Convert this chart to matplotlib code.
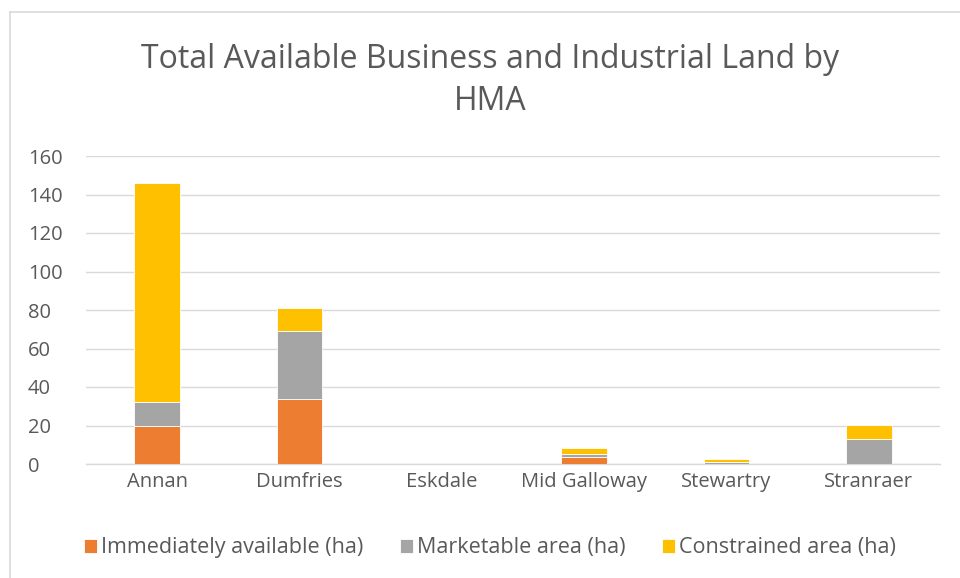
import numpy as np
import matplotlib.pyplot as plt
from matplotlib.lines import Line2D

# данные по HMA
areas = ['Annan', 'Dumfries', 'Eskdale', 'Mid Galloway', 'Stewartry', 'Stranraer']
immediate = [20.0, 34.0, 0.0, 3.8, 0.0, 0.0]
marketable = [12.4, 35.2, 0.0, 1.4, 1.2, 13.1]
constrained = [113.6, 11.9, 0.0, 3.0, 1.2, 7.2]

series_names = ['Immediately available (ha)', 'Marketable area (ha)', 'Constrained area (ha)']
colors = ['#ED7D31', '#A5A5A5', '#FFC000']
text_color = '#595959'

plt.rcParams['font.family'] = ['Open Sans', 'DejaVu Sans']

W, H = 960, 578
fig = plt.figure(figsize=(W / 100, H / 100), dpi=100)
ax = fig.add_axes([86 / W, 1 - 464 / H, (940 - 86) / W, (464 - 156) / H])

x = np.arange(len(areas))
w = 0.32
bottom = np.zeros(len(areas))
for vals, name, c in zip([immediate, marketable, constrained], series_names, colors):
    ax.bar(x, vals, w, bottom=bottom, color=c, label=name, edgecolor='white', linewidth=0.6, zorder=3)
    bottom += np.array(vals)

ax.set_xlim(-0.5, len(areas) - 0.5)
ax.set_ylim(0, 160)
ax.set_yticks(range(0, 161, 20))
ax.set_xticks(x)
ax.set_xticklabels(areas)
ax.grid(axis='y', color='#D9D9D9', linewidth=1, zorder=0)
for s in ['top', 'right', 'left']:
    ax.spines[s].set_visible(False)
ax.spines['bottom'].set_color('#D9D9D9')
ax.spines['bottom'].set_linewidth(1)
ax.tick_params(length=0, labelsize=14.5, colors=text_color)
ax.tick_params(axis='x', pad=6)
ax.tick_params(axis='y', pad=58 * 0.72)
for t in ax.get_yticklabels():
    t.set_ha('left')

# заголовок и легенда центрируются по всей диаграмме (центр ~490 px)
fig.text(490 / W, 1 - 60 / H, 'Total Available Business and Industrial Land by', ha='center', va='center',
         fontsize=23, color=text_color)
fig.text(490 / W, 1 - 101 / H, 'HMA', ha='center', va='center', fontsize=23, color=text_color)

ax.legend(loc='center', bbox_to_anchor=((490 - 86) / 854, (464 - 548) / 308), ncol=3, frameon=False,
          fontsize=15.5, labelcolor=text_color, handlelength=0.6, handleheight=0.6, handletextpad=0.2,
          columnspacing=1.7)

# рамка диаграммы (правый и нижний край обрезаны)
fig.add_artist(Line2D([9.5 / W, 9.5 / W], [0, 1 - 11.5 / H], color='#D9D9D9', linewidth=1.2))
fig.add_artist(Line2D([9.5 / W, 1], [1 - 11.5 / H, 1 - 11.5 / H], color='#D9D9D9', linewidth=1.2))

fig.savefig('out.png', dpi=100)
